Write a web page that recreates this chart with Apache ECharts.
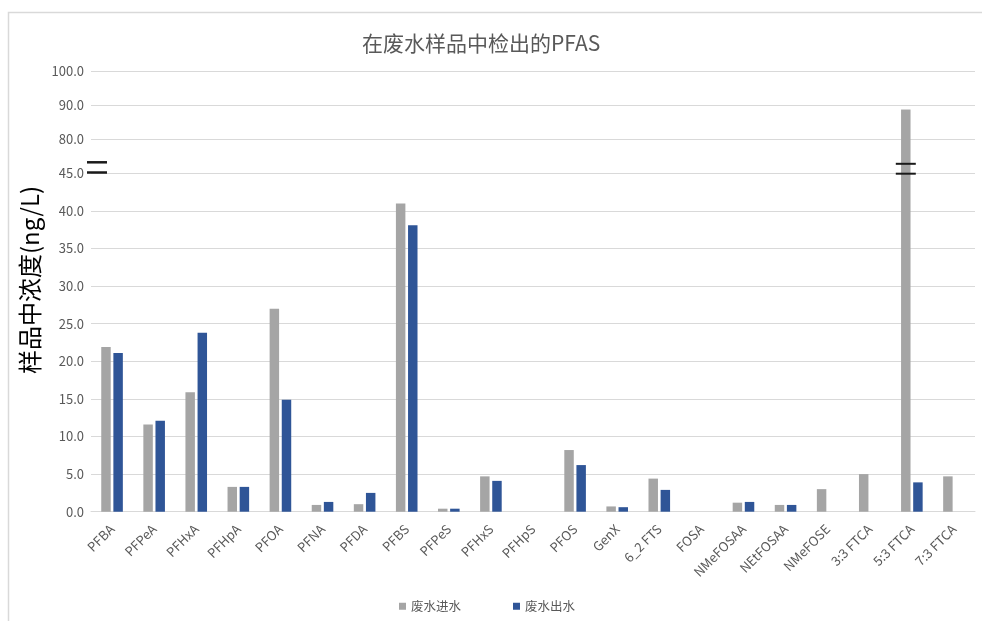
<!DOCTYPE html>
<html>
<head>
<meta charset="utf-8">
<script src="https://cdn.jsdelivr.net/npm/echarts@6/dist/echarts.min.js"></script>
<style>
  html, body { margin: 0; padding: 0; background: #fff; }
  #chart { width: 982px; height: 621px; }
</style>
</head>
<body>
<div id="chart"></div>
<script>
// PFAS compounds measured in wastewater samples
const categories = ['PFBA', 'PFPeA', 'PFHxA', 'PFHpA', 'PFOA', 'PFNA', 'PFDA', 'PFBS', 'PFPeS', 'PFHxS',
  'PFHpS', 'PFOS', 'GenX', '6_2 FTS', 'FOSA', 'NMeFOSAA', 'NEtFOSAA', 'NMeFOSE', '3:3 FTCA', '5:3 FTCA', '7:3 FTCA'];

// Concentrations, ng/L
const influent = [21.9, 11.6, 15.9, 3.3, 27.0, 0.9, 1.0, 41.0, 0.4, 4.7,
  0, 8.2, 0.7, 4.4, 0, 1.2, 0.9, 3.0, 5.0, 88.7, 4.7];
const effluent = [21.1, 12.1, 23.8, 3.3, 14.9, 1.3, 2.5, 38.1, 0.4, 4.1,
  0, 6.2, 0.6, 2.9, 0, 1.3, 0.9, 0, 0, 3.9, 0];

const seriesNames = ['废水进水', '废水出水'];

// Broken value axis: lower part 0–45, upper part 70–100 (ticks 80, 90, 100)
const lowerTicks = { min: 0, max: 45, interval: 5 };
const upperTicks = { min: 70, max: 100, interval: 10 };

const GRAY = '#A5A5A5';
const BLUE = '#2F5597';
const TEXT = '#595959';
const LINE = '#D9D9D9';
const FONT = '"Noto Sans CJK SC", "Noto Sans", sans-serif';

const chart = echarts.init(document.getElementById('chart'), null, { renderer: 'canvas' });

const barStyle = { barWidth: '22.5%', barGap: '28%', clip: true };

function makeSeries(gridAxis) {
  return [
    Object.assign({
      name: seriesNames[0], type: 'bar', data: influent,
      xAxisIndex: gridAxis, yAxisIndex: gridAxis,
      itemStyle: { color: GRAY }
    }, barStyle),
    Object.assign({
      name: seriesNames[1], type: 'bar', data: effluent,
      xAxisIndex: gridAxis, yAxisIndex: gridAxis,
      itemStyle: { color: BLUE }
    }, barStyle)
  ];
}

const fmt1 = v => v.toFixed(1);

const option = {
  animation: false,
  backgroundColor: '#fff',
  textStyle: { fontFamily: FONT },
  title: {
    text: '在废水样品中检出的PFAS',
    left: 357,
    top: 28,
    textStyle: { fontFamily: FONT, fontSize: 21, fontWeight: 'normal', color: TEXT }
  },
  legend: {
    data: seriesNames,
    left: 394,
    top: 595,
    icon: 'rect',
    itemWidth: 7,
    itemHeight: 7,
    itemGap: 52,
    textStyle: { fontFamily: FONT, fontSize: 12.5, color: TEXT }
  },
  grid: [
    { left: 91, right: 7, top: 173.3, bottom: 109.3, containLabel: false },
    { left: 91, right: 7, top: 71, height: 102.3, containLabel: false }
  ],
  xAxis: [
    {
      gridIndex: 0, type: 'category', data: categories,
      axisLine: { lineStyle: { color: LINE, width: 1 } },
      axisTick: { show: false },
      axisLabel: {
        rotate: 45, interval: 0, margin: 15,
        fontFamily: FONT, fontSize: 13, color: TEXT
      }
    },
    {
      gridIndex: 1, type: 'category', data: categories, show: false
    }
  ],
  yAxis: [
    {
      gridIndex: 0, type: 'value',
      min: lowerTicks.min, max: lowerTicks.max, interval: lowerTicks.interval,
      axisLine: { show: false }, axisTick: { show: false },
      axisLabel: { formatter: fmt1, fontFamily: FONT, fontSize: 13, color: TEXT, margin: 7 },
      splitLine: { lineStyle: { color: LINE, width: 1 } }
    },
    {
      gridIndex: 1, type: 'value',
      min: upperTicks.min, max: upperTicks.max, interval: upperTicks.interval,
      axisLine: { show: false }, axisTick: { show: false },
      axisLabel: {
        formatter: v => (v === upperTicks.min ? '' : fmt1(v)),
        fontFamily: FONT, fontSize: 13, color: TEXT, margin: 7
      },
      splitLine: { lineStyle: { color: LINE, width: 1 } }
    }
  ],
  series: makeSeries(0).concat(makeSeries(1)),
  graphic: [
    {
      type: 'rect', silent: true,
      shape: { x: 8.5, y: 12.5, width: 990, height: 640 },
      style: { fill: null, stroke: '#D9D9D9', lineWidth: 1.5 }
    },
    {
      type: 'text', silent: true,
      x: 30, y: 280, rotation: Math.PI / 2,
      style: {
        text: '样品中浓度(ng/L)',
        font: '24px ' + FONT,
        fill: '#000',
        align: 'center',
        verticalAlign: 'middle'
      }
    }
  ]
};

chart.setOption(option);

// Break marks on the value axis and across bars that pass the break
function addBreakMarks() {
  const yBreak = chart.convertToPixel({ yAxisIndex: 0 }, lowerTicks.max);
  const gridLeft = option.grid[0].left;
  const marks = [];
  const mark = (x1, x2, y, w) => ({
    type: 'line', silent: true, z: 100,
    shape: { x1: x1, y1: y, x2: x2, y2: y },
    style: { stroke: '#1a1a1a', lineWidth: w }
  });
  // axis "=" sign
  marks.push(mark(gridLeft - 4, gridLeft + 16, yBreak - 11, 2.5));
  marks.push(mark(gridLeft - 4, gridLeft + 16, yBreak - 0.8, 2.5));

  // bars taller than the lower segment
  const data = chart.getModel().getSeriesByIndex(0).getData();
  influent.forEach((v, i) => {
    if (v > lowerTicks.max) {
      const lay = data.getItemLayout(i);
      const cx = lay.x + lay.width / 2;
      marks.push(mark(cx - 10, cx + 10, yBreak - 9.5, 2));
      marks.push(mark(cx - 10, cx + 10, yBreak + 0.4, 2));
    }
  });
  chart.setOption({ graphic: option.graphic.concat(marks) });
}
addBreakMarks();
</script>
</body>
</html>
